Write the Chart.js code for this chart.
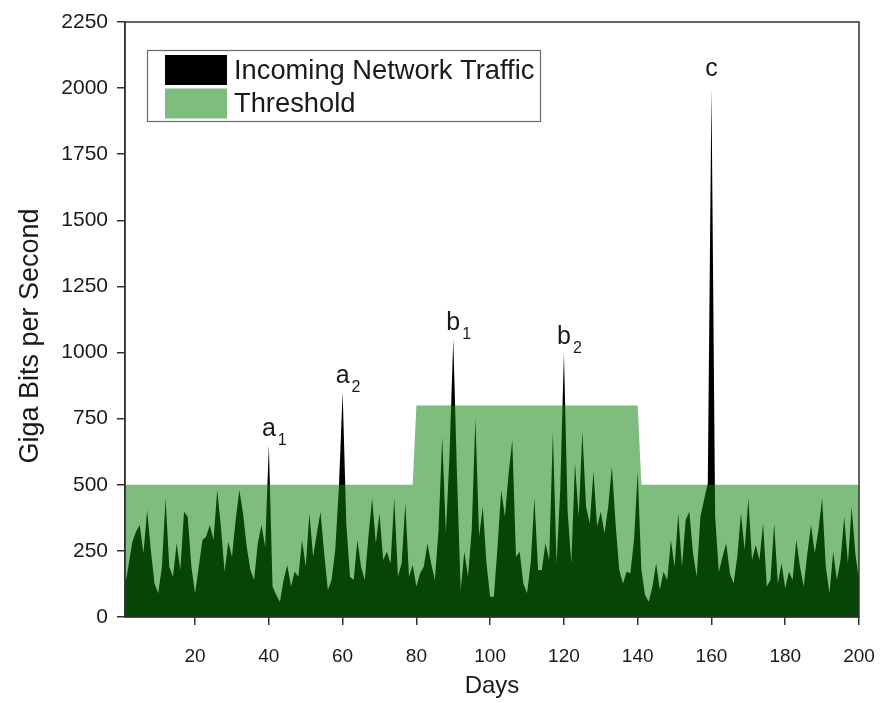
<!DOCTYPE html>
<html>
<head>
<meta charset="utf-8">
<script src="https://cdn.jsdelivr.net/npm/chart.js@4.4.0/dist/chart.umd.min.js"></script>
<style>
html,body{margin:0;padding:0;background:#fff;}
#wrap{width:881px;height:703px;position:relative;}
canvas{display:block;}
</style>
</head>
<body>
<div id="wrap"><canvas id="chart" width="881" height="703"></canvas></div>
<script>
// ---------- DATA ----------
const days = [
  1,2,3,4,5,6,7,8,9,10,11,12,13,14,15,16,17,18,19,20,
  21,22,23,24,25,26,27,28,29,30,31,32,33,34,35,36,37,38,39,40,
  41,42,43,44,45,46,47,48,49,50,51,52,53,54,55,56,57,58,59,60,
  61,62,63,64,65,66,67,68,69,70,71,72,73,74,75,76,77,78,79,80,
  81,82,83,84,85,86,87,88,89,90,91,92,93,94,95,96,97,98,99,100,
  101,102,103,104,105,106,107,108,109,110,111,112,113,114,115,116,117,118,119,120,
  121,122,123,124,125,126,127,128,129,130,131,132,133,134,135,136,137,138,139,140,
  141,142,143,144,145,146,147,148,149,150,151,152,153,154,155,156,157,158,159,160,
  161,162,163,164,165,166,167,168,169,170,171,172,173,174,175,176,177,178,179,180,
  181,182,183,184,185,186,187,188,189,190,191,192,193,194,195,196,197,198,199,200
];
const incomingTraffic = [
  115,200,285,323,348,241,405,253,127,90,
  190,449,190,152,279,178,398,379,190,90,
  190,291,304,348,291,480,342,171,285,228,
  367,480,392,266,178,140,279,348,266,650,
  115,83,58,140,197,115,171,152,291,190,
  392,228,316,398,241,102,140,253,493,852,
  354,152,140,291,190,140,304,449,279,392,
  216,247,203,449,152,203,430,152,197,115,
  165,190,279,203,140,329,682,316,620,1050,
  540,102,247,152,329,751,304,417,203,77,
  77,266,480,380,543,669,228,247,127,90,
  203,449,178,178,279,216,701,203,480,1000,
  400,203,581,380,701,417,354,550,342,398,
  316,417,569,354,178,127,171,165,291,550,
  178,83,58,115,203,102,171,140,291,190,
  392,190,367,398,241,152,379,443,505,2000,
  380,170,228,279,165,127,228,392,253,449,
  216,272,216,354,115,140,354,127,203,108,
  171,140,291,190,115,241,348,241,329,449,
  190,90,247,140,216,379,203,417,241,140
];
const thresholdDays   = [1, 79, 80, 140, 141, 200];
const thresholdValues = [500, 500, 800, 800, 500, 500];
const xTickValues = [20, 40, 60, 80, 100, 120, 140, 160, 180, 200];
const yTickValues = [0, 250, 500, 750, 1000, 1250, 1500, 1750, 2000, 2250];
const seriesNames = ['Incoming Network Traffic', 'Threshold'];
const xTitle = 'Days';
const yTitle = 'Giga Bits per Second';
const peakDays    = [40, 60, 90, 120, 160];
const peakLetters = ['a', 'a', 'b', 'b', 'c'];
const peakSubs    = ['1', '2', '1', '2', ''];

// ---------- STYLE ----------
const FONT = "'Liberation Sans', Arial, Helvetica, sans-serif";
const TRAFFIC_COLOR = '#000000';
const THRESH_COLOR = 'rgba(12,130,12,0.53)';
const AXIS_COLOR = '#333333';
const TEXT_COLOR = '#1a1a1a';

const trafficPoints = days.map((d, i) => ({x: d, y: incomingTraffic[i]}));
const thresholdPoints = thresholdDays.map((d, i) => ({x: d, y: thresholdValues[i]}));

const framePlugin = {
  id: 'frame',
  afterDatasetsDraw(chart) {
    const {ctx, chartArea: a} = chart;
    ctx.save();
    ctx.strokeStyle = AXIS_COLOR;
    ctx.lineWidth = 1.5;
    ctx.strokeRect(a.left, a.top, a.right - a.left, a.bottom - a.top);
    ctx.restore();
  }
};

const peakLabelPlugin = {
  id: 'peakLabels',
  afterDatasetsDraw(chart) {
    const {ctx} = chart;
    const xs = chart.scales.x, ys = chart.scales.y;
    ctx.save();
    ctx.fillStyle = TEXT_COLOR;
    peakDays.forEach((d, i) => {
      const v = incomingTraffic[days.indexOf(d)];
      const px = xs.getPixelForValue(d);
      const py = ys.getPixelForValue(v);
      const base = py - (peakSubs[i] ? 9 : 12);
      ctx.font = '25px ' + FONT;
      ctx.textAlign = 'center';
      ctx.textBaseline = 'alphabetic';
      ctx.fillText(peakLetters[i], px, base);
      if (peakSubs[i]) {
        const w = ctx.measureText(peakLetters[i]).width;
        ctx.font = '16px ' + FONT;
        ctx.textAlign = 'left';
        ctx.fillText(peakSubs[i], px + w / 2 + 2, base + 9);
      }
    });
    ctx.restore();
  }
};

const legendBoxPlugin = {
  id: 'legendBox',
  afterDraw(chart) {
    const {ctx} = chart;
    const colors = [TRAFFIC_COLOR, THRESH_COLOR];
    ctx.save();
    ctx.fillStyle = '#ffffff';
    ctx.fillRect(147, 50, 394, 72);
    ctx.strokeStyle = '#6a6a6a';
    ctx.lineWidth = 1.2;
    ctx.strokeRect(147.5, 50.5, 393, 71);
    seriesNames.forEach((name, i) => {
      const top = 55 + i * 33.5;
      ctx.fillStyle = colors[i];
      ctx.fillRect(165, top, 62, 30);
      ctx.fillStyle = TEXT_COLOR;
      ctx.font = '27.3px ' + FONT;
      ctx.textAlign = 'left';
      ctx.textBaseline = 'middle';
      ctx.fillText(name, 234, top + 16);
    });
    ctx.restore();
  }
};

const yTitlePlugin = {
  id: 'yTitle',
  afterDraw(chart) {
    const {ctx} = chart;
    ctx.save();
    ctx.translate(31, 336);
    ctx.rotate(-Math.PI / 2);
    ctx.fillStyle = TEXT_COLOR;
    ctx.font = '27px ' + FONT;
    ctx.textAlign = 'center';
    ctx.textBaseline = 'middle';
    ctx.fillText(yTitle, 0, 0);
    ctx.restore();
  }
};

new Chart(document.getElementById('chart'), {
  type: 'line',
  data: {
    datasets: [
      {
        label: seriesNames[0],
        data: trafficPoints,
        backgroundColor: TRAFFIC_COLOR,
        borderColor: 'rgba(0,0,0,0)',
        borderWidth: 0,
        pointRadius: 0,
        tension: 0,
        fill: 'origin',
        order: 2
      },
      {
        label: seriesNames[1],
        data: thresholdPoints,
        backgroundColor: THRESH_COLOR,
        borderColor: 'rgba(0,0,0,0)',
        borderWidth: 0,
        pointRadius: 0,
        tension: 0,
        fill: 'origin',
        order: 1
      }
    ]
  },
  options: {
    responsive: false,
    animation: false,
    devicePixelRatio: 1,
    layout: {padding: {top: 22, right: 22, left: 0, bottom: 0}},
    plugins: {legend: {display: false}, tooltip: {enabled: false}},
    scales: {
      x: {
        type: 'linear',
        min: 1,
        max: 200,
        afterBuildTicks(scale) { scale.ticks = xTickValues.map(v => ({value: v})); },
        afterFit(scale) { scale.height = 86; scale.paddingLeft = 0; scale.paddingRight = 0; },
        ticks: {
          font: {family: FONT, size: 19},
          color: TEXT_COLOR,
          padding: 20,
          maxRotation: 0,
          autoSkip: false,
          callback: v => String(v)
        },
        grid: {display: true, drawOnChartArea: false, drawTicks: true, tickLength: 8, color: AXIS_COLOR, lineWidth: 1.5},
        border: {display: true, color: AXIS_COLOR, width: 1.5},
        title: {display: true, text: xTitle, font: {family: FONT, size: 24}, color: TEXT_COLOR, padding: {top: 0, bottom: 2}}
      },
      y: {
        type: 'linear',
        min: 0,
        max: 2250,
        afterBuildTicks(scale) { scale.ticks = yTickValues.map(v => ({value: v})); },
        afterFit(scale) { scale.width = 125; scale.paddingTop = 0; scale.paddingBottom = 0; },
        ticks: {
          font: {family: FONT, size: 21},
          color: TEXT_COLOR,
          padding: 9,
          autoSkip: false,
          callback: v => String(v)
        },
        grid: {display: true, drawOnChartArea: false, drawTicks: true, tickLength: 8, color: AXIS_COLOR, lineWidth: 1.5},
        border: {display: true, color: AXIS_COLOR, width: 1.5},
        title: {display: false}
      }
    }
  },
  plugins: [framePlugin, peakLabelPlugin, legendBoxPlugin, yTitlePlugin]
});
</script>
</body>
</html>
